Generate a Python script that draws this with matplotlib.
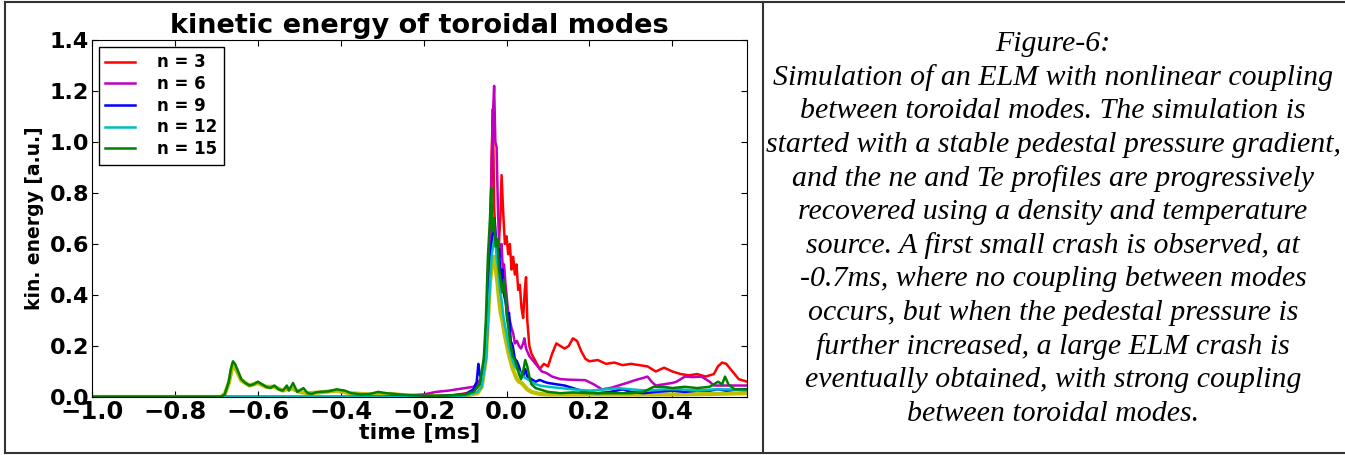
import matplotlib
matplotlib.use("Agg")
import matplotlib.pyplot as plt
from matplotlib.lines import Line2D
import numpy as np

# kinetic energy per toroidal mode, (time [ms], energy [a.u.])
n3 = [(-1.0, 0), (-0.15, 0), (-0.08, 0.02), (-0.06, 0.06), (-0.05, 0.15), (-0.045, 0.3),
      (-0.04, 0.55), (-0.036, 0.95), (-0.033, 1.13), (-0.03, 0.75), (-0.026, 0.6),
      (-0.022, 0.55), (-0.018, 0.62), (-0.015, 0.7), (-0.012, 0.87), (-0.008, 0.72),
      (-0.004, 0.6), (0.0, 0.63), (0.004, 0.56), (0.008, 0.6), (0.012, 0.5), (0.016, 0.55),
      (0.02, 0.48), (0.024, 0.52), (0.028, 0.42), (0.032, 0.44), (0.036, 0.35), (0.04, 0.31),
      (0.044, 0.42), (0.047, 0.47), (0.05, 0.3), (0.055, 0.2), (0.06, 0.17), (0.07, 0.14),
      (0.08, 0.11), (0.09, 0.13), (0.1, 0.12), (0.11, 0.17), (0.12, 0.21), (0.13, 0.2),
      (0.14, 0.19), (0.15, 0.2), (0.16, 0.23), (0.17, 0.22), (0.18, 0.18), (0.19, 0.15),
      (0.2, 0.14), (0.22, 0.145), (0.24, 0.13), (0.26, 0.135), (0.28, 0.125), (0.3, 0.13),
      (0.32, 0.125), (0.34, 0.12), (0.36, 0.1), (0.38, 0.115), (0.4, 0.1), (0.42, 0.09),
      (0.44, 0.085), (0.46, 0.09), (0.48, 0.08), (0.5, 0.09), (0.51, 0.12), (0.52, 0.135),
      (0.53, 0.13), (0.54, 0.11), (0.55, 0.09), (0.56, 0.07), (0.58, 0.06)]

n6 = [(-1.0, 0), (-0.3, 0), (-0.25, 0.005), (-0.2, 0.01), (-0.17, 0.02), (-0.14, 0.025),
      (-0.12, 0.03), (-0.1, 0.035), (-0.08, 0.04), (-0.07, 0.05), (-0.06, 0.08), (-0.05, 0.2),
      (-0.045, 0.4), (-0.04, 0.6), (-0.036, 0.9), (-0.033, 1.1), (-0.03, 1.22), (-0.027, 1.0),
      (-0.024, 0.98), (-0.021, 0.75), (-0.018, 0.6), (-0.015, 0.55), (-0.012, 0.6),
      (-0.009, 0.5), (-0.006, 0.52), (-0.003, 0.45), (0.0, 0.4), (0.004, 0.33), (0.008, 0.3),
      (0.012, 0.27), (0.016, 0.25), (0.02, 0.21), (0.025, 0.22), (0.03, 0.2), (0.035, 0.19),
      (0.04, 0.21), (0.043, 0.23), (0.047, 0.19), (0.055, 0.16), (0.065, 0.14), (0.075, 0.12),
      (0.085, 0.1), (0.095, 0.095), (0.11, 0.08), (0.13, 0.07), (0.15, 0.068), (0.17, 0.067),
      (0.19, 0.066), (0.21, 0.05), (0.23, 0.03), (0.25, 0.035), (0.27, 0.045), (0.29, 0.055),
      (0.31, 0.066), (0.33, 0.075), (0.34, 0.08), (0.35, 0.06), (0.36, 0.045), (0.38, 0.05),
      (0.4, 0.055), (0.41, 0.06), (0.43, 0.08), (0.45, 0.078), (0.47, 0.08), (0.49, 0.06),
      (0.5, 0.045), (0.53, 0.045), (0.56, 0.045), (0.58, 0.045)]

n9 = [(-1.0, 0), (-0.2, 0), (-0.15, 0.005), (-0.1, 0.01), (-0.08, 0.03), (-0.072, 0.06),
      (-0.068, 0.13), (-0.065, 0.09), (-0.06, 0.07), (-0.055, 0.1), (-0.05, 0.2),
      (-0.045, 0.35), (-0.04, 0.5), (-0.036, 0.6), (-0.032, 0.66), (-0.029, 0.7),
      (-0.026, 0.62), (-0.022, 0.55), (-0.018, 0.58), (-0.014, 0.45), (-0.01, 0.5),
      (-0.006, 0.4), (-0.002, 0.37), (0.002, 0.3), (0.006, 0.33), (0.01, 0.22), (0.015, 0.2),
      (0.02, 0.15), (0.025, 0.14), (0.03, 0.12), (0.035, 0.09), (0.04, 0.08), (0.045, 0.11),
      (0.05, 0.08), (0.06, 0.07), (0.07, 0.06), (0.08, 0.067), (0.09, 0.06), (0.1, 0.055),
      (0.12, 0.05), (0.14, 0.045), (0.15, 0.04), (0.17, 0.03), (0.19, 0.02), (0.22, 0.015),
      (0.25, 0.02), (0.28, 0.03), (0.3, 0.02), (0.33, 0.015), (0.36, 0.02), (0.4, 0.025),
      (0.43, 0.02), (0.46, 0.025), (0.49, 0.025), (0.51, 0.03), (0.53, 0.025), (0.56, 0.03),
      (0.58, 0.03)]

n12 = [(-1.0, 0), (-0.15, 0), (-0.1, 0.005), (-0.07, 0.02), (-0.06, 0.04), (-0.05, 0.15),
       (-0.045, 0.3), (-0.04, 0.45), (-0.036, 0.55), (-0.032, 0.6), (-0.028, 0.63),
       (-0.024, 0.55), (-0.02, 0.5), (-0.016, 0.42), (-0.012, 0.38), (-0.008, 0.32),
       (-0.004, 0.28), (0.0, 0.25), (0.005, 0.2), (0.01, 0.17), (0.015, 0.14), (0.02, 0.12),
       (0.03, 0.1), (0.04, 0.08), (0.05, 0.07), (0.06, 0.06), (0.07, 0.05), (0.08, 0.045),
       (0.1, 0.04), (0.13, 0.035), (0.16, 0.03), (0.2, 0.025), (0.24, 0.03), (0.27, 0.035),
       (0.3, 0.03), (0.34, 0.025), (0.38, 0.03), (0.42, 0.03), (0.46, 0.025), (0.5, 0.03),
       (0.54, 0.03), (0.58, 0.025)]

n15 = [(-1.0, 0), (-0.69, 0), (-0.68, 0.01), (-0.67, 0.06), (-0.665, 0.11), (-0.66, 0.14),
       (-0.655, 0.13), (-0.65, 0.11), (-0.645, 0.09), (-0.64, 0.07), (-0.63, 0.055),
       (-0.62, 0.045), (-0.61, 0.05), (-0.6, 0.06), (-0.59, 0.05), (-0.58, 0.04),
       (-0.57, 0.035), (-0.56, 0.045), (-0.55, 0.03), (-0.54, 0.025), (-0.53, 0.045),
       (-0.525, 0.025), (-0.515, 0.055), (-0.505, 0.02), (-0.495, 0.03), (-0.49, 0.035),
       (-0.48, 0.015), (-0.47, 0.012), (-0.46, 0.018), (-0.45, 0.02), (-0.43, 0.022),
       (-0.41, 0.03), (-0.39, 0.025), (-0.375, 0.015), (-0.35, 0.01), (-0.33, 0.012),
       (-0.31, 0.02), (-0.29, 0.015), (-0.26, 0.01), (-0.24, 0.008), (-0.2, 0.005),
       (-0.15, 0.005), (-0.1, 0.01), (-0.08, 0.02), (-0.065, 0.05), (-0.055, 0.15),
       (-0.05, 0.3), (-0.045, 0.55), (-0.04, 0.7), (-0.037, 0.82), (-0.034, 0.65),
       (-0.03, 0.7), (-0.026, 0.59), (-0.022, 0.62), (-0.018, 0.5), (-0.014, 0.45),
       (-0.01, 0.41), (-0.006, 0.46), (-0.002, 0.38), (0.002, 0.3), (0.006, 0.25),
       (0.01, 0.2), (0.015, 0.16), (0.02, 0.145), (0.025, 0.12), (0.03, 0.09), (0.035, 0.07),
       (0.04, 0.1), (0.045, 0.145), (0.05, 0.12), (0.055, 0.08), (0.06, 0.05), (0.07, 0.035),
       (0.08, 0.03), (0.1, 0.02), (0.13, 0.015), (0.16, 0.018), (0.2, 0.015), (0.25, 0.015),
       (0.3, 0.015), (0.33, 0.02), (0.355, 0.04), (0.38, 0.04), (0.4, 0.035), (0.43, 0.04),
       (0.46, 0.035), (0.49, 0.04), (0.51, 0.06), (0.52, 0.05), (0.527, 0.08), (0.535, 0.05),
       (0.55, 0.03), (0.58, 0.03)]

# yellow curve has no legend entry in the original
n18 = [(-1.0, 0), (-0.69, 0), (-0.68, 0.01), (-0.67, 0.055), (-0.66, 0.13), (-0.65, 0.1),
       (-0.64, 0.065), (-0.62, 0.045), (-0.6, 0.055), (-0.58, 0.04), (-0.56, 0.04),
       (-0.54, 0.025), (-0.52, 0.035), (-0.5, 0.02), (-0.48, 0.015), (-0.45, 0.018),
       (-0.41, 0.025), (-0.38, 0.015), (-0.33, 0.01), (-0.28, 0.012), (-0.24, 0.006),
       (-0.2, 0.003), (-0.1, 0.005), (-0.07, 0.015), (-0.06, 0.04), (-0.05, 0.15),
       (-0.045, 0.3), (-0.04, 0.45), (-0.035, 0.52), (-0.03, 0.55), (-0.026, 0.5),
       (-0.022, 0.45), (-0.018, 0.38), (-0.014, 0.33), (-0.01, 0.3), (-0.005, 0.25),
       (0.0, 0.21), (0.005, 0.17), (0.01, 0.14), (0.015, 0.11), (0.02, 0.09), (0.025, 0.07),
       (0.03, 0.06), (0.036, 0.055), (0.045, 0.04), (0.05, 0.03), (0.06, 0.02), (0.08, 0.012),
       (0.1, 0.01), (0.15, 0.01), (0.2, 0.01), (0.3, 0.01), (0.4, 0.01), (0.5, 0.012),
       (0.58, 0.015)]

labels = ["n = 3", "n = 6", "n = 9", "n = 12", "n = 15"]
colores = ["red", "m", "b", "c", "g"]
xticks = [-1.0, -0.8, -0.6, -0.4, -0.2, 0.0, 0.2, 0.4]
yticks = [0.0, 0.2, 0.4, 0.6, 0.8, 1.0, 1.2, 1.4]

caption = [
    "Figure-6:",
    "Simulation of an ELM with nonlinear coupling",
    "between toroidal modes. The simulation is",
    "started with a stable pedestal pressure gradient,",
    "and the ne and Te profiles are progressively",
    "recovered using a density and temperature",
    "source. A first small crash is observed, at",
    "-0.7ms, where no coupling between modes",
    "occurs, but when the pedestal pressure is",
    "further increased, a large ELM crash is",
    "eventually obtained, with strong coupling",
    "between toroidal modes.",
]

W, H = 1345, 455
fig = plt.figure(figsize=(W / 100, H / 100), dpi=100)
ax = fig.add_axes([92 / W, 1 - 397 / H, (747 - 92) / W, (397 - 40) / H])

t, e = np.array(n18).T
ax.plot(t, e, color="y", lw=3.0, zorder=1.9)
for serie, lab, col in zip([n3, n6, n9, n12, n15], labels, colores):
    t, e = np.array(serie).T
    ax.plot(t, e, color=col, lw=1.8, label=lab)

ax.set_xlim(-1.0, 0.58)
ax.set_ylim(0.0, 1.4)
ax.set_xticks(xticks)
ax.set_yticks(yticks)
ax.tick_params(direction="in", top=True, right=True, length=4, pad=2)
ax.tick_params(axis="x", labelsize=17.5)
ax.tick_params(axis="y", labelsize=16)
for lbl in ax.get_xticklabels() + ax.get_yticklabels():
    lbl.set_fontweight("bold")
ax.set_xlabel("time [ms]", fontsize=16, fontweight="bold", labelpad=-1)
ax.set_ylabel("kin. energy [a.u.]", fontsize=13.5, fontweight="bold", labelpad=4)
ax.set_title("kinetic energy of toroidal modes", fontsize=19.5, fontweight="bold", pad=5)

leg = ax.legend(loc="upper left", fancybox=False, edgecolor="black", framealpha=1,
                prop={"weight": "bold", "size": 12}, handlelength=1.8,
                handletextpad=1.3, labelspacing=0.22, borderaxespad=0.4)
leg.get_frame().set_linewidth(1.0)

# table borders around the figure and the caption cell
borde = dict(color="#333333", lw=1.5, transform=fig.transFigure)
fig.add_artist(Line2D([5 / W, 1], [1 - 2 / H, 1 - 2 / H], **borde))
fig.add_artist(Line2D([5 / W, 1], [1 - 453 / H, 1 - 453 / H], **borde))
fig.add_artist(Line2D([5 / W, 5 / W], [1 - 2 / H, 1 - 453 / H], **borde))
fig.add_artist(Line2D([763 / W, 763 / W], [1 - 2 / H, 1 - 453 / H], **borde))

for i, linea in enumerate(caption):
    y = 44 + i * 33.6
    fig.text(1053 / W, 1 - y / H, linea, ha="center", va="center",
             family="Liberation Serif", style="italic", fontsize=21.5)

fig.savefig("out.png", dpi=100)
